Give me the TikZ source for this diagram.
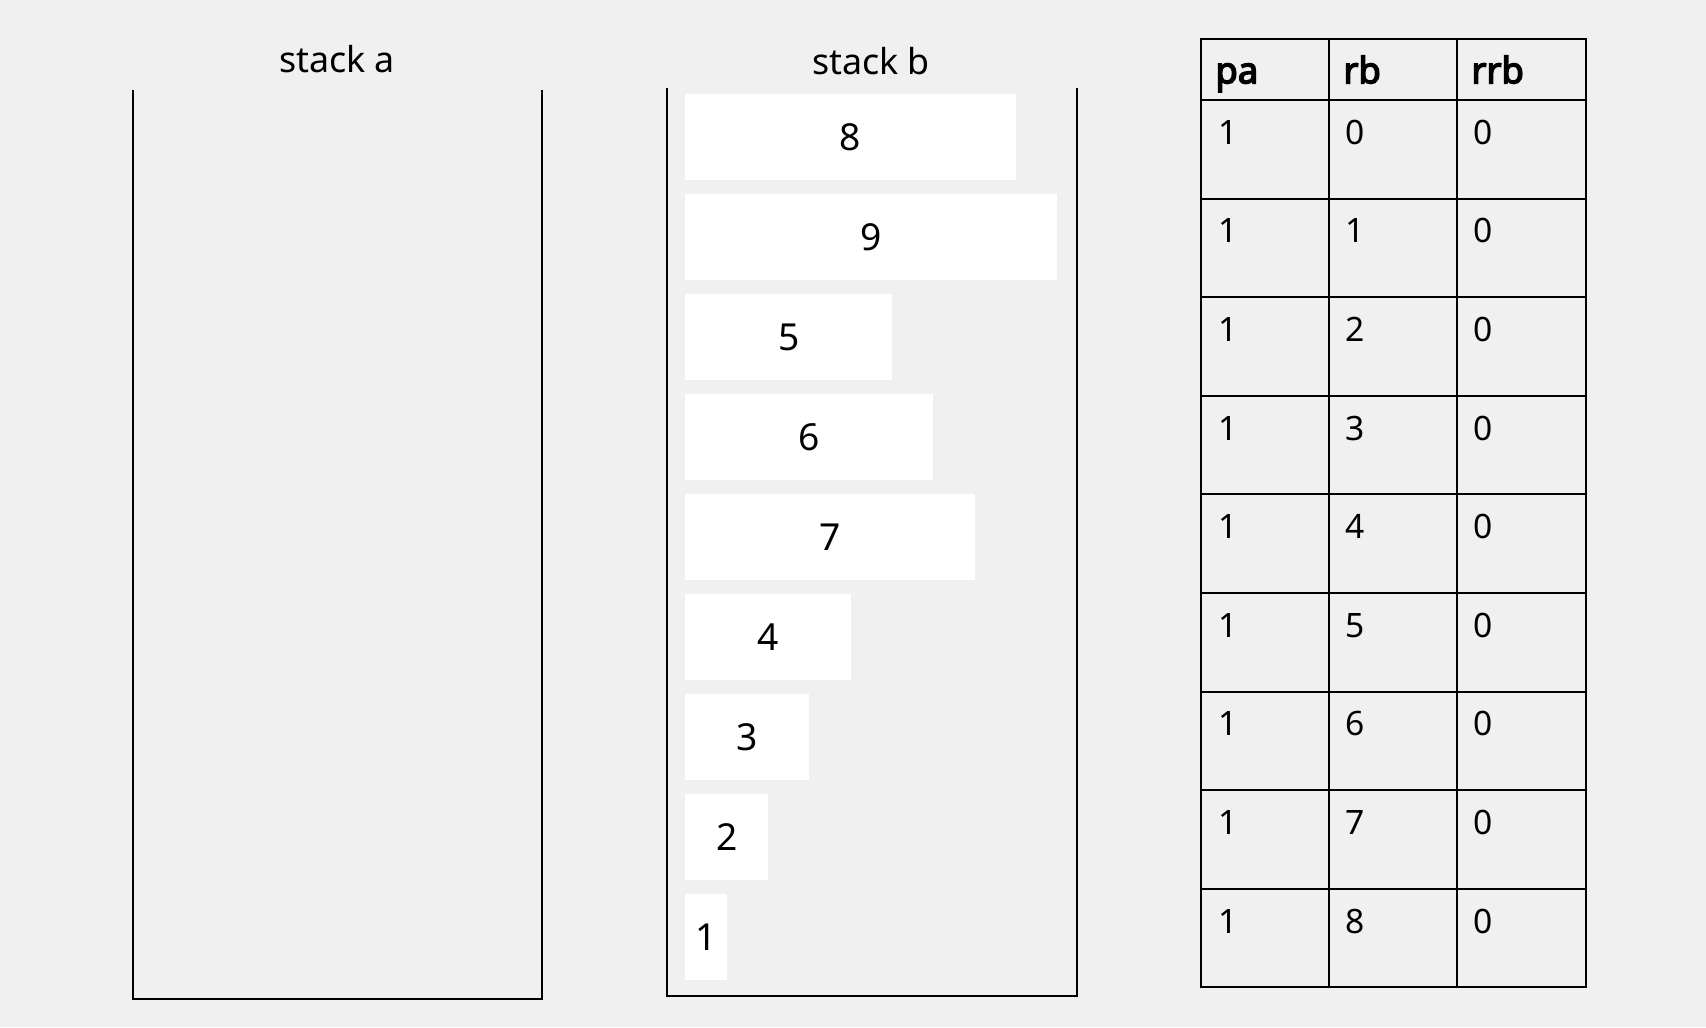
\documentclass[tikz,border=0pt]{standalone}
\usepackage{fontspec}
\setmainfont{Noto Sans}[AutoFakeBold=4]
\definecolor{bgc}{HTML}{F0F0F0}
\begin{document}
\begin{tikzpicture}[x=0.5pt,y=-0.5pt,
  stackline/.style={line width=0.65pt,draw=black},
  tblline/.style={line width=1pt,draw=black},
  elem/.style={fill=white,draw=none,anchor=north west,inner sep=0pt,
    minimum height=43.35pt,font=\fontsize{18.6pt}{20pt}\selectfont},
  stacklabel/.style={anchor=base,inner sep=0pt,font=\fontsize{17.9pt}{20pt}\selectfont},
  headtxt/.style={anchor=base west,inner sep=0pt,font=\fontsize{18.2pt}{20pt}\selectfont\bfseries},
  celltxt/.style={anchor=base west,inner sep=0pt,font=\fontsize{16.8pt}{20pt}\selectfont}]
\fill[bgc] (0,0) rectangle (1706,1027);
\useasboundingbox (0,0) rectangle (1706,1027);
% stack a
\coordinate (sa1) at (133,90);
\coordinate (sa2) at (133,999);
\coordinate (sa3) at (542,999);
\coordinate (sa4) at (542,90);
\draw[stackline] (sa1) -- (sa2) -- (sa3) -- (sa4);
\node[stacklabel] (la) at (337,72.7) {stack a};
% stack b
\coordinate (sb1) at (667,88);
\coordinate (sb2) at (667,996);
\coordinate (sb3) at (1077,996);
\coordinate (sb4) at (1077,88);
\draw[stackline] (sb1) -- (sb2) -- (sb3) -- (sb4);
\node[stacklabel] (lb) at (871,75) {stack b};
% elements
\foreach \v [count=\i from 0] in {8,9,5,6,7,4,3,2,1}{
  \pgfmathsetmacro{\boxw}{20.65*\v}
  \node[elem,minimum width=\boxw pt] (e\v) at (685,{93.3+100*\i}) {\v};
}
% table
\draw[tblline] (1201,39) rectangle (1586,987.4);
\draw[tblline] (1329,39) -- (1329,987.4);
\draw[tblline] (1457.3,39) -- (1457.3,987.4);
\foreach \i in {0,...,8}{
  \draw[tblline] (1201,{100+98.6*\i}) -- (1586,{100+98.6*\i});
}
\node[headtxt] (hpa) at (1215,83.3) {pa};
\node[headtxt] (hrb) at (1343,83.3) {rb};
\node[headtxt] (hrrb) at (1471,83.3) {rrb};
\foreach \i in {0,...,8}{
  \node[celltxt] (pa\i) at (1218,{144.3+98.6*\i}) {1};
  \node[celltxt] (rb\i) at (1345,{144.3+98.6*\i}) {\i};
  \node[celltxt] (rrb\i) at (1473,{144.3+98.6*\i}) {0};
}
\end{tikzpicture}
\end{document}
